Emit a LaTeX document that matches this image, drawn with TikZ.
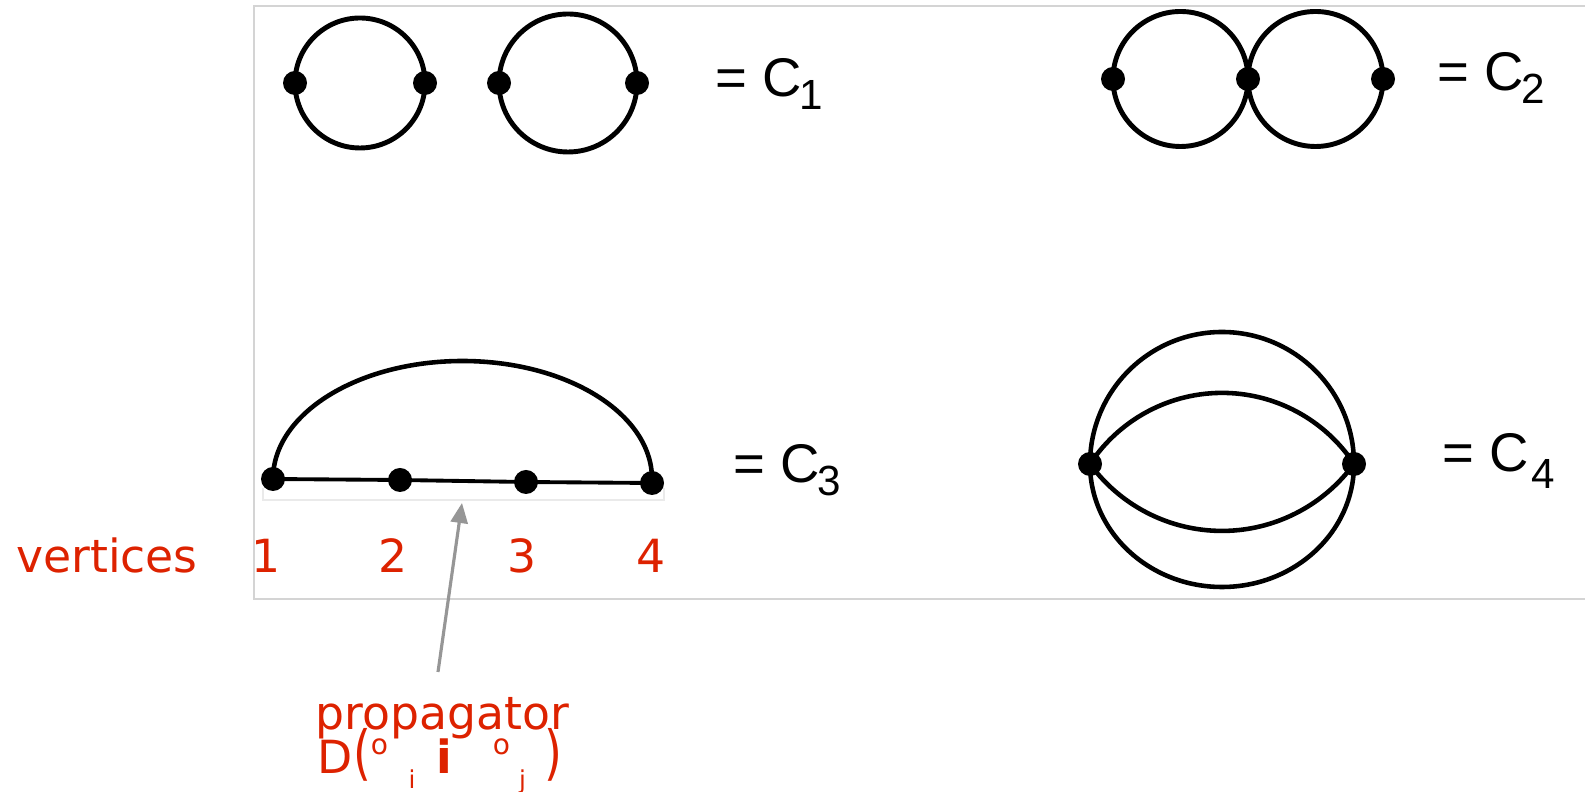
\documentclass[tikz,border=0pt]{standalone}
\usepackage{fontspec}
\setmainfont{Liberation Sans}
\newfontfamily\redfont{DejaVu Sans}
\usetikzlibrary{arrows.meta}
\definecolor{vred}{RGB}{221,34,0}
\definecolor{framegray}{RGB}{212,212,212}
\definecolor{arrowgray}{RGB}{150,150,150}
\tikzset{
  vtx/.style={circle,fill=black,inner sep=0pt,minimum size=0.24cm},
  prop/.style={line width=1.4pt},
  eqlab/.style={anchor=base west,inner sep=0pt,font=\fontsize{15.5}{18}\selectfont},
  redlab/.style={anchor=base,inner sep=0pt,text=vred,font=\redfont\fontsize{13}{15}\selectfont}
}
\newcommand{\csub}[3][0.13cm]{C\hspace{#2}\raisebox{-#1}{\fontsize{12}{12}\selectfont #3}}
\begin{document}
\begin{tikzpicture}
\useasboundingbox (0,0) rectangle (15.85,-7.92);
\draw[framegray,line width=0.6pt] (15.85,-0.06) -- (2.54,-0.06) -- (2.54,-5.99) -- (15.85,-5.99);

\node[vtx] (a1) at (2.95,-0.83) {};
\node[vtx] (a2) at (4.25,-0.83) {};
\node[vtx] (b1) at (4.99,-0.83) {};
\node[vtx] (b2) at (6.37,-0.83) {};
\draw[prop] (a1.center) arc[start angle=180,delta angle=360,radius=0.65];
\draw[prop] (b1.center) arc[start angle=180,delta angle=360,radius=0.69];
\node[eqlab] (l1) at (7.15,-0.97) {= \csub{-0.03cm}{1}};

\node[vtx] (e1) at (11.13,-0.79) {};
\node[vtx] (e2) at (12.48,-0.79) {};
\node[vtx] (e3) at (13.83,-0.79) {};
\draw[prop] (e1.center) arc[start angle=180,delta angle=360,radius=0.675];
\draw[prop] (e2.center) arc[start angle=180,delta angle=360,radius=0.675];
\node[eqlab] (l2) at (14.37,-0.91) {= \csub{-0.03cm}{2}};

\draw[framegray!50,line width=0.4pt] (2.63,-4.88) -- (2.63,-5.0) -- (6.64,-5.0) -- (6.64,-4.88);
\node[vtx] (v1) at (2.73,-4.79) {};
\node[vtx] (v2) at (4.00,-4.80) {};
\node[vtx] (v3) at (5.26,-4.82) {};
\node[vtx] (v4) at (6.52,-4.83) {};
\draw[line width=1.1pt] (v1.center) -- (v2.center) -- (v3.center) -- (v4.center);
\draw[line width=1.3pt] (v1.center) arc[start angle=180,end angle=0,x radius=1.895,y radius=1.18];
\node[eqlab] (l3) at (7.33,-4.83) {= \csub{-0.03cm}{3}};

\node[vtx] (w1) at (10.90,-4.64) {};
\node[vtx] (w2) at (13.54,-4.64) {};
\draw[line width=1.3pt] (w1.center) arc[start angle=180,end angle=0,radius=1.32]
  arc[start angle=0,end angle=-180,x radius=1.32,y radius=1.23];
\draw[line width=1.3pt] (w1.center) arc[start angle=146.6,end angle=33.4,radius=1.582];
\draw[line width=1.3pt] (w1.center) arc[start angle=-143.8,end angle=-36.2,radius=1.635];
\node[eqlab] (l4) at (14.42,-4.72) {= \csub[0.17cm]{0.02cm}{4}};

\node[redlab] (vert) at (1.07,-5.73) {vertices};
\foreach \i/\x in {1/2.66,2/3.93,3/5.22,4/6.51}
  \node[redlab] (n\i) at (\x,-5.73) {\i};

\coordinate (ptip) at (4.62,-5.03);
\coordinate (ptail) at (4.38,-6.72);
\draw[arrowgray,line width=0.9pt,-{Triangle[length=0.2cm,width=0.17cm]}] (ptail) -- (ptip);
\node[redlab] (propa) at (4.42,-7.30) {propagator};
\node[redlab] (dform) at (4.40,-7.74) {D\scalebox{1}[1.3]{(}\raisebox{0.8ex}{\footnotesize o}\hspace{0.45em}\raisebox{-0.6ex}{\scriptsize i}\hspace{0.45em}\textbf{i}\hspace{0.9em}\raisebox{0.8ex}{\footnotesize o}\hspace{0.2em}\raisebox{-0.6ex}{\scriptsize j}\hspace{0.4em}\scalebox{1}[1.3]{)}};
\end{tikzpicture}
\end{document}
